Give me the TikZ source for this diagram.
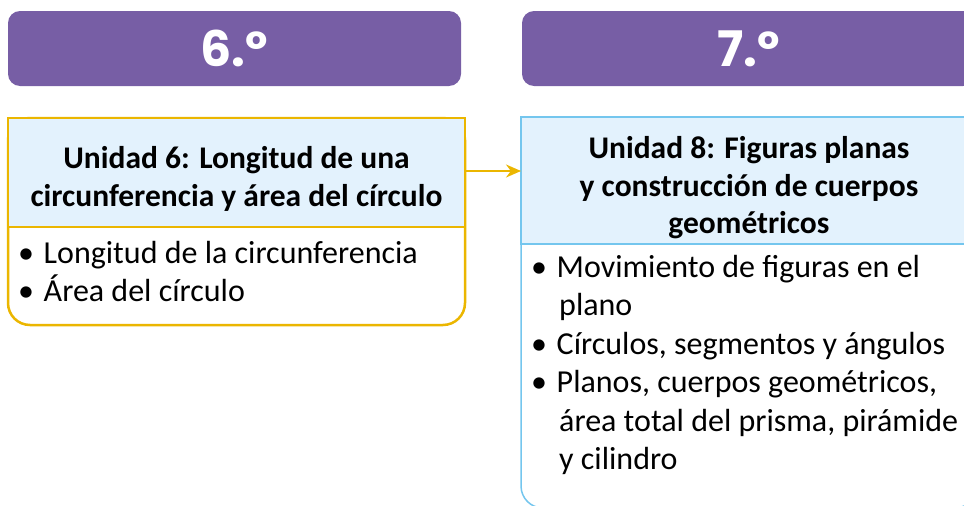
\documentclass[tikz,border=0pt]{standalone}
\usepackage{fontspec}
\setmainfont{Carlito}
\newfontfamily\numfont{Poppins}[UprightFont=* Bold]
\usetikzlibrary{arrows.meta}
\definecolor{purp}{HTML}{775EA5}
\definecolor{ylw}{HTML}{EBB600}
\definecolor{lblue}{HTML}{E3F2FD}
\definecolor{bblue}{HTML}{74C6EE}
\newcommand{\itembul}{•\hspace{0.3em}}
\tikzset{
  gradebox/.style={fill=purp, draw=none, rounded corners=12pt, minimum width=453pt, minimum height=75pt, inner sep=0pt, text=white, font=\numfont\fontsize{49}{49}\selectfont},
  hdrtext/.style={font=\bfseries\fontsize{31.5}{37.5}\selectfont, align=center, inner sep=0pt},
  bodytext/.style={font=\fontsize{32}{38.5}\selectfont, align=left, inner sep=0pt, anchor=north west},
}
\begin{document}
\begin{tikzpicture}[x=1pt,y=-1pt]
\useasboundingbox (0,0) rectangle (964,506);
\clip (0,0) rectangle (964,506);
% grade headers
\node[gradebox] (g6) at (234.5,48.5) {6.º};
\node[gradebox] (g7) at (748.5,48.5) {7.º};
% left unit box
\draw[ylw, line width=2.5pt, fill=white, rounded corners=22pt] (8,118) rectangle (465,325);
\draw[ylw, line width=2.5pt, fill=lblue] (8,118) rectangle (465,227);
\node[hdrtext] (h6) at (236.5,179) {Unidad 6: Longitud de una\\circunferencia y área del círculo};
\node[bodytext] (b6) at (18,241) {\itembul Longitud de la circunferencia\\\itembul Área del círculo};
% right unit box
\draw[bblue, line width=1.5pt, fill=white, rounded corners=22pt] (521,117) rectangle (977,508);
\draw[bblue, line width=1.5pt, fill=lblue] (521,117) rectangle (977,244);
\node[hdrtext] (h8) at (749,188) {Unidad 8: Figuras planas\\y construcción de cuerpos\\geométricos};
\node[bodytext] (b8) at (531,255) {\itembul Movimiento de figuras en el\\\hspace*{28pt}plano\\\itembul Círculos, segmentos y ángulos\\\itembul Planos, cuerpos geométricos,\\\hspace*{28pt}área total del prisma, pirámide\\\hspace*{28pt}y cilindro};
% connector
\coordinate (a1) at (465,171);
\coordinate (a2) at (521,171);
\draw[ylw, line width=2pt, -{Stealth[length=15pt,width=13pt]}] (a1) -- (a2);
\end{tikzpicture}
\end{document}
